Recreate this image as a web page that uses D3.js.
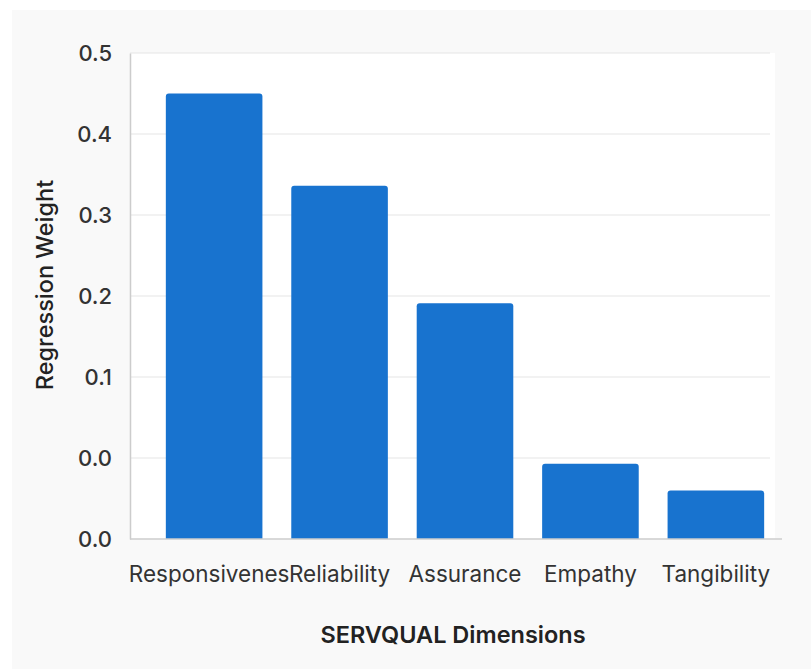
<!DOCTYPE html>
<html>
<head>
<meta charset="utf-8">
<script src="https://cdn.jsdelivr.net/npm/d3@7"></script>
<style>
  html, body { margin: 0; padding: 0; background: #ffffff; }
  svg { display: block; }
  text { font-family: Inter, "Noto Sans", sans-serif; }
</style>
</head>
<body>
<svg id="chart" width="811" height="669"></svg>
<script>
// SERVQUAL dimension regression weights
const dimensions = ["Responsiveness", "Reliability", "Assurance", "Empathy", "Tangibility"];
const dimensionLabels = ["Responsivenes", "Reliability", "Assurance", "Empathy", "Tangibility"];
const weights = [0.45, 0.336, 0.191, -0.007, -0.04];
const tickValues = [-0.1, 0.0, 0.1, 0.2, 0.3, 0.4, 0.5];
const tickLabels = ["0.0", "0.0", "0.1", "0.2", "0.3", "0.4", "0.5"];

const svg = d3.select("#chart");
const W = 811, H = 669;
const plot = { left: 130, right: 775, top: 53, bottom: 539 };

// page panel
svg.append("rect").attr("x", 12).attr("y", 10).attr("width", W - 12).attr("height", H - 10)
  .attr("fill", "#f9f9f9");
svg.append("rect").attr("x", plot.left).attr("y", plot.top)
  .attr("width", plot.right - plot.left).attr("height", plot.bottom - plot.top)
  .attr("fill", "#ffffff");

const x = d3.scaleBand().domain(dimensions).range([142, 788])
  .paddingInner(0.23).paddingOuter(0.19);
const y = d3.scaleLinear().domain([-0.1, 0.5]).range([plot.bottom, plot.top]);

// gridlines
svg.append("g").selectAll("line").data(tickValues.slice(1)).join("line")
  .attr("x1", plot.left).attr("x2", 770)
  .attr("y1", d => y(d)).attr("y2", d => y(d))
  .attr("stroke", "#e6e6e6").attr("stroke-width", 1.2);

// y axis
const yAxis = d3.axisLeft(y).tickValues(tickValues)
  .tickFormat((d, i) => tickLabels[i]).tickSize(0).tickPadding(18);
const gy = svg.append("g").attr("transform", `translate(${plot.left},0)`).call(yAxis);
gy.select(".domain").attr("stroke", "#cccccc").attr("stroke-width", 1.5);
gy.selectAll("text").attr("font-size", 22).attr("font-weight", 500).attr("fill", "#333333");

// bars with rounded tops
const r = 3;
svg.append("g").selectAll("path").data(weights).join("path")
  .attr("fill", "#1873cf")
  .attr("d", (d, i) => {
    const x0 = x(dimensions[i]), w = x.bandwidth();
    const yt = y(d), yb = y(-0.1);
    return `M${x0},${yb}V${yt + r}Q${x0},${yt} ${x0 + r},${yt}H${x0 + w - r}Q${x0 + w},${yt} ${x0 + w},${yt + r}V${yb}Z`;
  });

// x axis
const xAxis = d3.axisBottom(x).tickSize(0).tickPadding(25)
  .tickFormat((d, i) => dimensionLabels[i]);
const gx = svg.append("g").attr("transform", `translate(0,${plot.bottom})`).call(xAxis);
gx.select(".domain").remove();
gx.selectAll("text").attr("font-size", 22.5).attr("font-weight", 400).attr("fill", "#333333")
  .attr("dy", "0.8em");
gx.selectAll(".tick").filter((d, i) => i === 0).select("text").attr("dx", -5);
svg.append("line").attr("x1", plot.left).attr("x2", 782)
  .attr("y1", plot.bottom).attr("y2", plot.bottom)
  .attr("stroke", "#cccccc").attr("stroke-width", 1.5);

// axis titles
svg.append("text").attr("x", 453).attr("y", 643).attr("text-anchor", "middle")
  .attr("font-size", 23.5).attr("font-weight", 600).attr("fill", "#222222")
  .text("SERVQUAL Dimensions");
svg.append("text").attr("transform", "translate(53,285) rotate(-90)")
  .attr("text-anchor", "middle").attr("font-size", 23.5).attr("font-weight", 500)
  .attr("fill", "#222222").text("Regression Weight");
</script>
</body>
</html>
